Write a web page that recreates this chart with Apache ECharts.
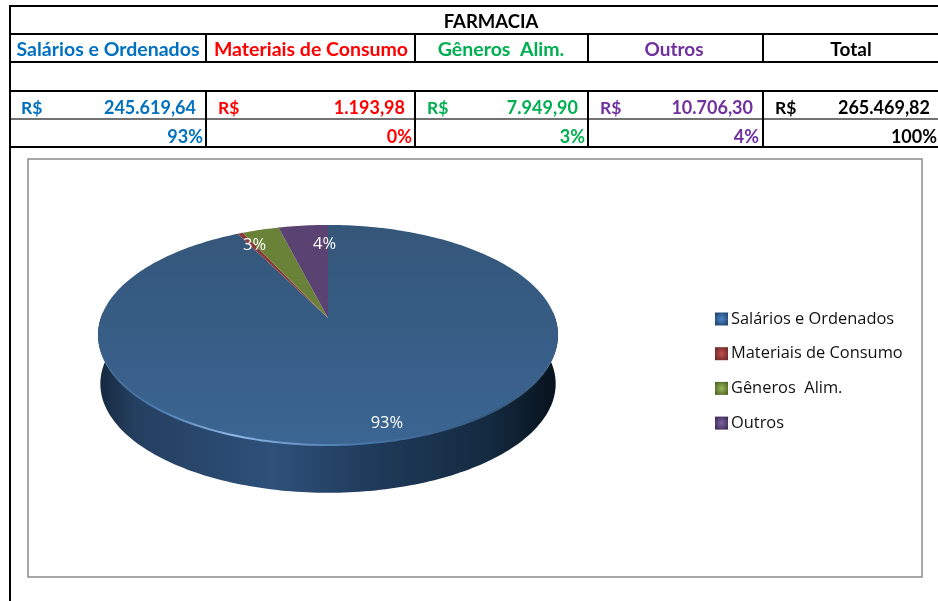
<!DOCTYPE html>
<html>
<head>
<meta charset="utf-8">
<title>FARMACIA</title>
<script src="https://cdn.jsdelivr.net/npm/echarts@6/dist/echarts.min.js"></script>
<style>
  html, body { margin: 0; padding: 0; background: #fff; }
  #chartDom { width: 938px; height: 601px; }
</style>
</head>
<body>
<div id="chartDom"></div>
<script>
// dados da tabela
const tableTitle = "FARMACIA";
const categories = ["Salários e Ordenados", "Materiais de Consumo", "Gêneros  Alim.", "Outros"];
const values = [245619.64, 1193.98, 7949.9, 10706.3];
const amountLabels = ["245.619,64", "1.193,98", "7.949,90", "10.706,30", "265.469,82"];
const percentLabels = ["93%", "0%", "3%", "4%", "100%"];
const pieLabels = ["93%", "", "3%", "4%"];

const headerColors = ["#0070C0", "#FF0000", "#00B050", "#7030A0", "#000000"];
const sliceColors = ["#375C87", "#8A3A38", "#6A8238", "#5A4272"];
const legendInner = ["#4A86C8", "#C0504D", "#9BBB59", "#8064A2"];
const legendOuter = ["#24466F", "#6E2A28", "#4F6426", "#3F2C58"];

// grade da tabela
const colX = [10, 206, 415, 588, 763, 938];
const rowY = [6, 34, 62, 91, 119, 147];

// geometria da pizza (perspectiva)
const cx = 328, cy = 318, A = 227.2, B = 107.4, k = -0.1545;
const wallDrop = 49, wallScale = 0.99;
const total = values.reduce((a, b) => a + b, 0);

function rimPoint(theta, r, drop, scale) {
  const u = r * Math.sin(theta), v = -r * Math.cos(theta), d = 1 + k * v;
  const s = scale || 1;
  return [cx + (A * s * u) / d, cy + (drop || 0) + (B * s * v) / d];
}
function arcPoints(from, to, drop, scale) {
  const steps = Math.max(2, Math.ceil(Math.abs(to - from) / 0.02));
  const pts = [];
  for (let i = 0; i <= steps; i++) pts.push(rimPoint(from + ((to - from) * i) / steps, 1, drop, scale));
  return pts;
}

const G = echarts.graphic;
const wallFill = new G.LinearGradient(0, 0, 1, 0, [
  { offset: 0, color: "#16293F" },
  { offset: 0.08, color: "#243F60" },
  { offset: 0.38, color: "#2E5079" },
  { offset: 0.6, color: "#1F3A5A" },
  { offset: 0.85, color: "#142A40" },
  { offset: 1, color: "#07121C" },
]);
const topFill = new G.LinearGradient(0, 0, 0, 1, [
  { offset: 0, color: "#345679" },
  { offset: 1, color: "#3B6593" },
]);
const bevelStroke = new G.LinearGradient(0, 0, 1, 0, [
  { offset: 0, color: "rgba(74,118,168,0)" },
  { offset: 0.12, color: "#4A78AC" },
  { offset: 0.3, color: "#8DB8E8" },
  { offset: 0.55, color: "#4A78AC" },
  { offset: 0.85, color: "#34597F" },
  { offset: 1, color: "rgba(52,89,127,0)" },
]);

// offsets dos rótulos em relação ao meio da fatia
const labelR = [0.87, 0.8, 0.8, 0.8];
const labelDx = [6, 0, -18, 17];
const labelDy = [1, 0, 0, 2];

function renderSlice(seriesIndex) {
  return function (params, api) {
    const start = (api.value(0) / total) * Math.PI * 2;
    const end = (api.value(1) / total) * Math.PI * 2;
    const children = [];
    if (seriesIndex === 0) {
      const front = arcPoints(Math.PI / 2 - 0.06, (Math.PI * 3) / 2 + 0.06);
      const back = arcPoints((Math.PI * 3) / 2 + 0.06, Math.PI / 2 - 0.06, wallDrop, wallScale);
      children.push({ type: "polygon", shape: { points: front.concat(back) }, style: { fill: wallFill } });
    }
    const pts = [[cx, cy]].concat(arcPoints(start, end));
    children.push({
      type: "polygon",
      shape: { points: pts },
      style: { fill: seriesIndex === 0 ? topFill : sliceColors[seriesIndex] },
    });
    if (seriesIndex === 0) {
      children.push({
        type: "polyline",
        shape: { points: arcPoints(Math.PI * 0.52, Math.PI * 1.48) },
        style: { stroke: bevelStroke, lineWidth: 2, fill: null },
      });
    }
    if (pieLabels[seriesIndex]) {
      const mid = rimPoint((start + end) / 2, labelR[seriesIndex]);
      children.push({
        type: "text",
        x: mid[0] + labelDx[seriesIndex],
        y: mid[1] + labelDy[seriesIndex],
        style: {
          text: pieLabels[seriesIndex],
          fill: "#fff",
          font: "16.5px 'Open Sans'",
          align: "center",
          verticalAlign: "middle",
        },
      });
    }
    return { type: "group", children: children };
  };
}

let running = 0;
const series = categories.map((name, i) => {
  const from = running;
  running += values[i];
  return {
    name: name,
    type: "custom",
    coordinateSystem: "none",
    renderItem: renderSlice(i),
    data: [[from, running]],
    itemStyle: { color: sliceColors[i] },
    animation: false,
    silent: true,
  };
});

// tabela como elementos gráficos
const tableGraphics = [];
function hLine(y, x1, x2, color, width) {
  tableGraphics.push({
    type: "line", shape: { x1: x1, y1: y, x2: x2, y2: y },
    style: { stroke: color || "#000", lineWidth: width || 2 }, silent: true,
  });
}
function vLine(x, y1, y2) {
  tableGraphics.push({
    type: "line", shape: { x1: x, y1: y1, x2: x, y2: y2 },
    style: { stroke: "#000", lineWidth: 2 }, silent: true,
  });
}
function cellText(text, x, y, color, align, size) {
  tableGraphics.push({
    type: "text", x: x, y: y, silent: true,
    style: { text: text, fill: color, font: "bold " + size + "px Lato", align: align, verticalAlign: "middle" },
  });
}
rowY.forEach((y, i) => hLine(y, 10, 938, i === 4 ? "#444" : "#000", i === 4 ? 1.5 : 2));
vLine(10, 5, 601);
colX.slice(1, 5).forEach((x) => {
  vLine(x, rowY[1], rowY[2]);
  vLine(x, rowY[3], rowY[5]);
});
tableGraphics.push({
  type: "rect", shape: { x: 28, y: 159, width: 894, height: 418 },
  style: { fill: "none", stroke: "#8C8C8C", lineWidth: 1.5 }, silent: true,
});

cellText(tableTitle, 491, 22, "#000", "center", 18.5);
const headers = categories.concat(["Total"]);
const headerCx = [108, 311, 501, 674, 851];
const rsX = [21, 218, 427, 600, 775];
const amountRight = [196, 405, 578, 753, 930];
const percentRight = [203, 412, 585, 759, 937];
headers.forEach((h, i) => {
  cellText(h, headerCx[i], 50, headerColors[i], "center", i < 3 ? 19.5 : 19);
  cellText("R$", rsX[i], 108, headerColors[i], "left", 17.5);
  cellText(amountLabels[i], amountRight[i], 108, headerColors[i], "right", 18);
  cellText(percentLabels[i], percentRight[i], 137, headerColors[i], "right", 18);
});

const chart = echarts.init(document.getElementById("chartDom"));
chart.setOption({
  backgroundColor: "#fff",
  animation: false,
  graphic: { elements: tableGraphics },
  legend: {
    orient: "vertical",
    left: 715,
    top: 311,
    itemWidth: 13,
    itemHeight: 13,
    itemGap: 18.7,
    selectedMode: false,
    padding: 0,
    icon: "rect",
    textStyle: { fontFamily: "Open Sans", fontSize: 16.4, color: "#111", padding: [0, 0, 0, -2] },
    data: categories.map((name, i) => ({
      name: name,
      itemStyle: {
        color: new G.RadialGradient(0.5, 0.5, 0.6, [
          { offset: 0, color: legendInner[i] },
          { offset: 1, color: legendOuter[i] },
        ]),
      },
    })),
  },
  series: series,
});
</script>
</body>
</html>
